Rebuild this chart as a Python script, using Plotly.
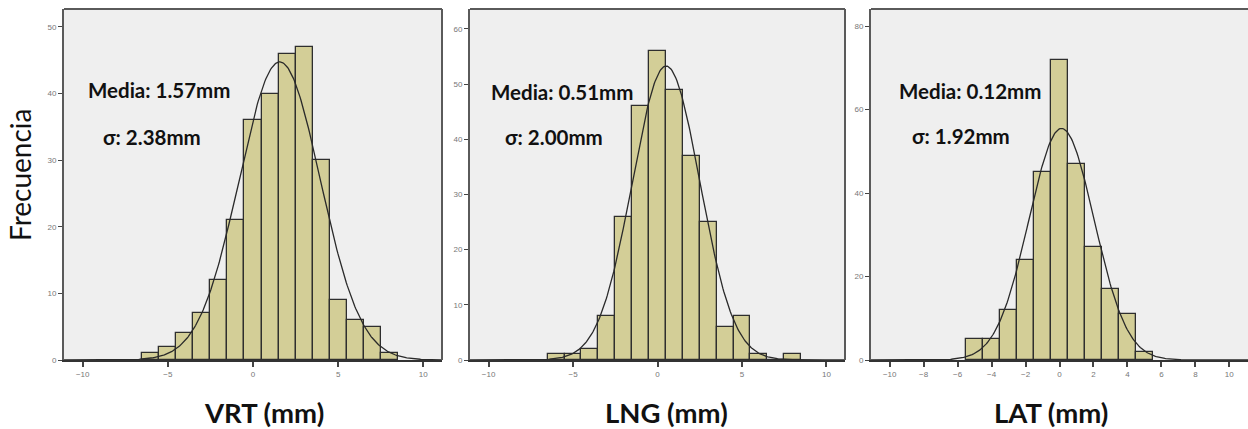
import numpy as np
import plotly.graph_objects as go

# ---------------- data ----------------
bins_vrt = [-6, -5, -4, -3, -2, -1, 0, 1, 2, 3, 4, 5, 6, 7, 8]
counts_vrt = [1, 2, 4, 7, 12, 21, 36, 40, 46, 47, 30, 9, 6, 5, 1]

bins_lng = [-6, -5, -4, -3, -2, -1, 0, 1, 2, 3, 4, 5, 6, 7, 8]
counts_lng = [1, 1, 2, 8, 26, 46, 56, 49, 37, 25, 6, 8, 1, 0, 1]

bins_lat = [-5, -4, -3, -2, -1, 0, 1, 2, 3, 4, 5]
counts_lat = [5, 5, 12, 24, 45, 72, 47, 27, 17, 11, 2]

means = [1.57, 0.51, 0.12]
sigmas = [2.38, 2.00, 1.92]
titles = ["VRT (mm)", "LNG (mm)", "LAT (mm)"]
y_ranges = [52.7, 63.6, 84.1]
y_dticks = [10, 10, 20]
x_dticks = [5, 5, 2]

W, H = 1248, 429
ML, MR, MT, MB = 0, 0, 9, 69
domains_px = [(64, 442), (470, 845), (871, 1249)]

BAR = "#d3ce97"
EDGE = "#2e2e2e"
BG = "#efefef"
FRAME = "#5a5a5a"

fig = go.Figure()
panels = [(bins_vrt, counts_vrt), (bins_lng, counts_lng), (bins_lat, counts_lat)]
for i, (b, c) in enumerate(panels):
    ax = "" if i == 0 else str(i + 1)
    fig.add_trace(go.Bar(x=b, y=c, width=1.0, marker=dict(color=BAR, line=dict(color=EDGE, width=1.3)),
                         xaxis="x" + ax, yaxis="y" + ax, showlegend=False))
    n = sum(c)
    xs = np.linspace(-11.1, 11.1, 400)
    ys = n * 1.0 / (sigmas[i] * np.sqrt(2 * np.pi)) * np.exp(-0.5 * ((xs - means[i]) / sigmas[i]) ** 2)
    fig.add_trace(go.Scatter(x=xs, y=ys, mode="lines", line=dict(color="#2a2a2a", width=1.3),
                             xaxis="x" + ax, yaxis="y" + ax, showlegend=False, hoverinfo="skip"))

layout = dict(width=W, height=H, margin=dict(l=ML, r=MR, t=MT, b=MB),
              paper_bgcolor="white", plot_bgcolor=BG, bargap=0, showlegend=False)

for i in range(3):
    ax = "" if i == 0 else str(i + 1)
    d0, d1 = domains_px[i]
    layout["xaxis" + ax] = dict(domain=[d0 / W, min(d1 / W, 1.0)], range=[-11.1, 11.1], anchor="y" + ax,
                                 tickmode="linear", tick0=-10, dtick=x_dticks[i],
                                 ticks="outside", ticklen=5, tickcolor="#444", tickwidth=1.5,
                                 tickfont=dict(size=8, color="#777", family="Arial"),
                                 showgrid=False, zeroline=False, showline=True, linecolor="#333",
                                 linewidth=2, mirror=False)
    layout["yaxis" + ax] = dict(domain=[0, 1], range=[0, y_ranges[i]], anchor="x" + ax,
                                 tickmode="linear", tick0=0, dtick=y_dticks[i],
                                 ticks="outside", ticklen=4, tickcolor="#444", tickwidth=1,
                                 tickfont=dict(size=8, color="#777", family="Arial"),
                                 showgrid=False, zeroline=False, showline=True, linecolor=FRAME,
                                 linewidth=2, mirror=False)

fig.update_layout(**layout)

# frames (top/left/right)
for i in range(3):
    ax = "" if i == 0 else str(i + 1)
    xr = "x" + ax + " domain"
    yr = "y" + ax + " domain"
    fig.add_shape(type="line", xref=xr, yref=yr, x0=0, x1=1, y0=1, y1=1, line=dict(color=FRAME, width=2))
    if i < 2:
        fig.add_shape(type="line", xref=xr, yref=yr, x0=1, x1=1, y0=0, y1=1, line=dict(color=FRAME, width=2))

# stats text
media_pos = [(-5.5, 40.5), (-5.68, 48.5), (-5.3, 64.4)]
sigma_pos = [(-5.94, 33.5), (-6.15, 40.4), (-5.8, 53.7)]
font_txt = dict(family="Lato", size=20.5, color="#111")
for i in range(3):
    ax = "" if i == 0 else str(i + 1)
    fig.add_annotation(x=media_pos[i][0], y=media_pos[i][1], xref="x" + ax, yref="y" + ax,
                       text="<b>Media: %.2fmm</b>" % means[i], showarrow=False, font=font_txt,
                       xanchor="center", yanchor="middle")
    fig.add_annotation(x=sigma_pos[i][0], y=sigma_pos[i][1], xref="x" + ax, yref="y" + ax,
                       text="<b>σ: %.2fmm</b>" % sigmas[i], showarrow=False, font=font_txt,
                       xanchor="center", yanchor="middle")

# axis titles
title_x = [264, 666, 1051]
plot_h = H - MT - MB
for i in range(3):
    fig.add_annotation(x=title_x[i] / W, y=-(412 - (H - MB)) / plot_h, xref="paper", yref="paper",
                       text="<b>%s</b>" % titles[i], showarrow=False,
                       font=dict(family="Lato", size=27.5, color="#111"),
                       xanchor="center", yanchor="middle")

fig.add_annotation(x=20 / W, y=((H - MB) - 175) / plot_h, xref="paper", yref="paper",
                   text="Frecuencia", textangle=-90, showarrow=False,
                   font=dict(family="Lato", size=28, color="#111"),
                   xanchor="center", yanchor="middle")

fig.write_html("out.html")
